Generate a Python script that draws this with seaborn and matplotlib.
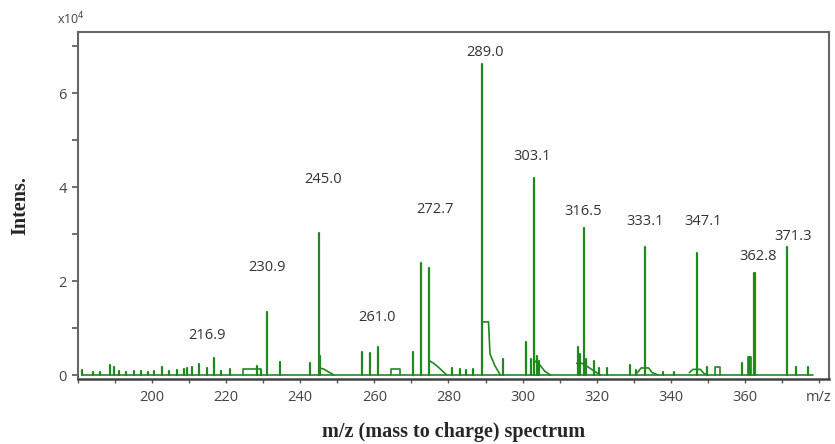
import numpy as np
import pandas as pd
import matplotlib
matplotlib.use("Agg")
import matplotlib.pyplot as plt
import seaborn as sns
from matplotlib.ticker import MultipleLocator

# picos principales (m/z, intensidad x10^4)
pico_mz = [230.9, 245.0, 256.7, 258.8, 260.9, 272.7, 274.8, 289.0, 303.1,
           316.5, 333.1, 347.1, 362.8, 371.3]
pico_int = [1.34, 3.02, 0.49, 0.46, 0.60, 2.38, 2.28, 6.62, 4.19,
            3.13, 2.72, 2.60, 2.17, 2.72]

# picos pequeños
menor_mz = [181.0, 184.0, 186.0, 188.7, 189.6, 191.0, 193.0, 195.0, 197.0,
            199.0, 200.5, 202.7, 204.5, 206.7, 208.6, 209.5, 210.8, 212.7,
            214.8, 216.7, 218.5, 221.0, 228.3, 229.5, 234.5, 242.6, 245.4,
            270.4, 281.0, 283.2, 284.7, 286.6, 294.7, 300.9, 302.3, 303.8,
            304.5, 315.0, 315.6, 317.2, 319.3, 320.5, 322.8, 329.0, 330.5,
            338.0, 341.0, 349.8, 359.2, 361.0, 361.4, 362.5, 373.9, 377.0]
menor_int = [0.10, 0.06, 0.07, 0.22, 0.18, 0.08, 0.07, 0.08, 0.09,
             0.07, 0.08, 0.16, 0.08, 0.11, 0.12, 0.14, 0.16, 0.24,
             0.15, 0.36, 0.08, 0.12, 0.20, 0.10, 0.28, 0.26, 0.40,
             0.49, 0.15, 0.13, 0.10, 0.12, 0.35, 0.70, 0.35, 0.40,
             0.30, 0.60, 0.45, 0.35, 0.30, 0.15, 0.15, 0.22, 0.10,
             0.07, 0.07, 0.16, 0.25, 0.38, 0.38, 2.17, 0.18, 0.18]

env_id = [0, 0, 0, 0, 1, 1, 1, 1, 1, 2, 2, 2, 2, 2, 3, 3, 3, 3,
          4, 4, 4, 4, 4, 4, 5, 5, 5, 5, 6, 6, 6, 6, 6, 7, 7, 7, 7, 7, 7,
          8, 8, 8, 8, 8, 9, 9, 9, 9, 9, 10, 10, 10, 10]
env_mz = [224.5, 224.5, 229.5, 229.5,
          245.3, 246.5, 247.5, 248.5, 249.0,
          264.5, 264.5, 267.0, 267.0, 267.0,
          274.9, 276.0, 277.5, 279.5,
          289.2, 289.3, 290.8, 291.2, 292.5, 294.0,
          303.3, 304.8, 306.0, 307.5,
          314.6, 316.0, 317.5, 319.0, 321.0,
          331.0, 332.0, 334.0, 335.0, 336.0, 336.5,
          345.0, 346.0, 348.0, 349.0, 350.0,
          351.8, 351.8, 353.3, 353.3, 353.4,
          360.8, 360.8, 361.6, 361.6]
env_int = [0.0, 0.12, 0.12, 0.0,
           0.15, 0.12, 0.07, 0.03, 0.0,
           0.0, 0.13, 0.13, 0.0, 0.0,
           0.30, 0.25, 0.15, 0.0,
           1.13, 1.13, 1.13, 0.45, 0.20, 0.0,
           0.30, 0.20, 0.08, 0.0,
           0.25, 0.25, 0.18, 0.10, 0.0,
           0.05, 0.15, 0.15, 0.05, 0.02, 0.0,
           0.05, 0.12, 0.12, 0.03, 0.0,
           0.0, 0.16, 0.16, 0.0, 0.0,
           0.0, 0.38, 0.38, 0.0]

# etiquetas de picos: texto y posicion
etiquetas = ["216.9", "230.9", "245.0", "261.0", "272.7", "289.0", "303.1",
             "316.5", "333.1", "347.1", "362.8", "371.3"]
etq_x = [214.8, 231.0, 246.1, 260.7, 276.4, 289.9, 302.5,
         316.3, 333.0, 348.7, 363.5, 373.0]
etq_y = [0.85, 2.28, 4.17, 1.23, 3.53, 6.87, 4.64,
         3.49, 3.26, 3.26, 2.53, 2.94]

x_ticks = [200, 220, 240, 260, 280, 300, 320, 340, 360, 380]
x_tick_labels = ["200", "220", "240", "260", "280", "300", "320", "340", "360", "m/z"]
y_ticks = [0, 2, 4, 6]

verde = "#1e8a1e"

# construye los segmentos verticales de cada pico
todos_mz = pico_mz + menor_mz
todos_int = pico_int + menor_int
filas = []
for i, (m, h) in enumerate(zip(todos_mz, todos_int)):
    filas.append({"mz": m, "int": 0.0, "id": i})
    filas.append({"mz": m, "int": h, "id": i})
df_picos = pd.DataFrame(filas)
df_env = pd.DataFrame({"mz": env_mz, "int": env_int, "id": env_id})
df_base = pd.DataFrame({"mz": [181.0, 378.5], "int": [0.0, 0.0]})

sns.set_style("white")
fig = plt.figure(figsize=(8.35, 4.44), dpi=100)
ax = fig.add_axes([0.0934, 0.1464, 0.8994, 0.7816])

sns.lineplot(data=df_base, x="mz", y="int", color=verde, lw=1.2, ax=ax)
sns.lineplot(data=df_picos, x="mz", y="int", units="id", estimator=None,
             sort=False, color=verde, lw=1.6, ax=ax)
sns.lineplot(data=df_env, x="mz", y="int", units="id", estimator=None,
             sort=False, color=verde, lw=1.2, ax=ax)

for t, x, y in zip(etiquetas, etq_x, etq_y):
    ax.text(x, y, t, ha="center", va="center", fontsize=10.5,
            family="Open Sans", color="#333333")

ax.set_xlim(180.0, 382.7)
ax.set_ylim(-0.085, 7.3)
ax.set_xticks(x_ticks)
ax.set_xticklabels(x_tick_labels, family="Open Sans", fontsize=10.5, color="#444444")
ax.xaxis.set_minor_locator(MultipleLocator(10))
ax.set_yticks(y_ticks)
ax.set_yticklabels([str(v) for v in y_ticks], family="Open Sans", fontsize=10.5, color="#444444")
ax.yaxis.set_minor_locator(MultipleLocator(1))
ax.tick_params(axis="both", which="both", direction="out", color="#555555")
ax.tick_params(axis="y", which="both", length=4, width=1.2, pad=4, left=True)
ax.tick_params(axis="x", which="both", length=3, width=1.0, pad=5, bottom=True)

for lado in ["left", "top", "right"]:
    ax.spines[lado].set_color("#666666")
    ax.spines[lado].set_linewidth(1.5)
ax.spines["bottom"].set_color("#444444")
ax.spines["bottom"].set_linewidth(1.8)

ax.set_xlabel("m/z (mass to charge) spectrum", family="Liberation Serif",
              fontweight="bold", fontsize=14.5, labelpad=12)
ax.set_ylabel("Intens.", family="Liberation Serif", fontweight="bold",
              fontsize=14.5, labelpad=20)
fig.text(0.068, 0.958, "x10$^4$", family="Open Sans", fontsize=9,
         color="#444444", ha="left", va="center")

fig.savefig("out.png", dpi=100)
